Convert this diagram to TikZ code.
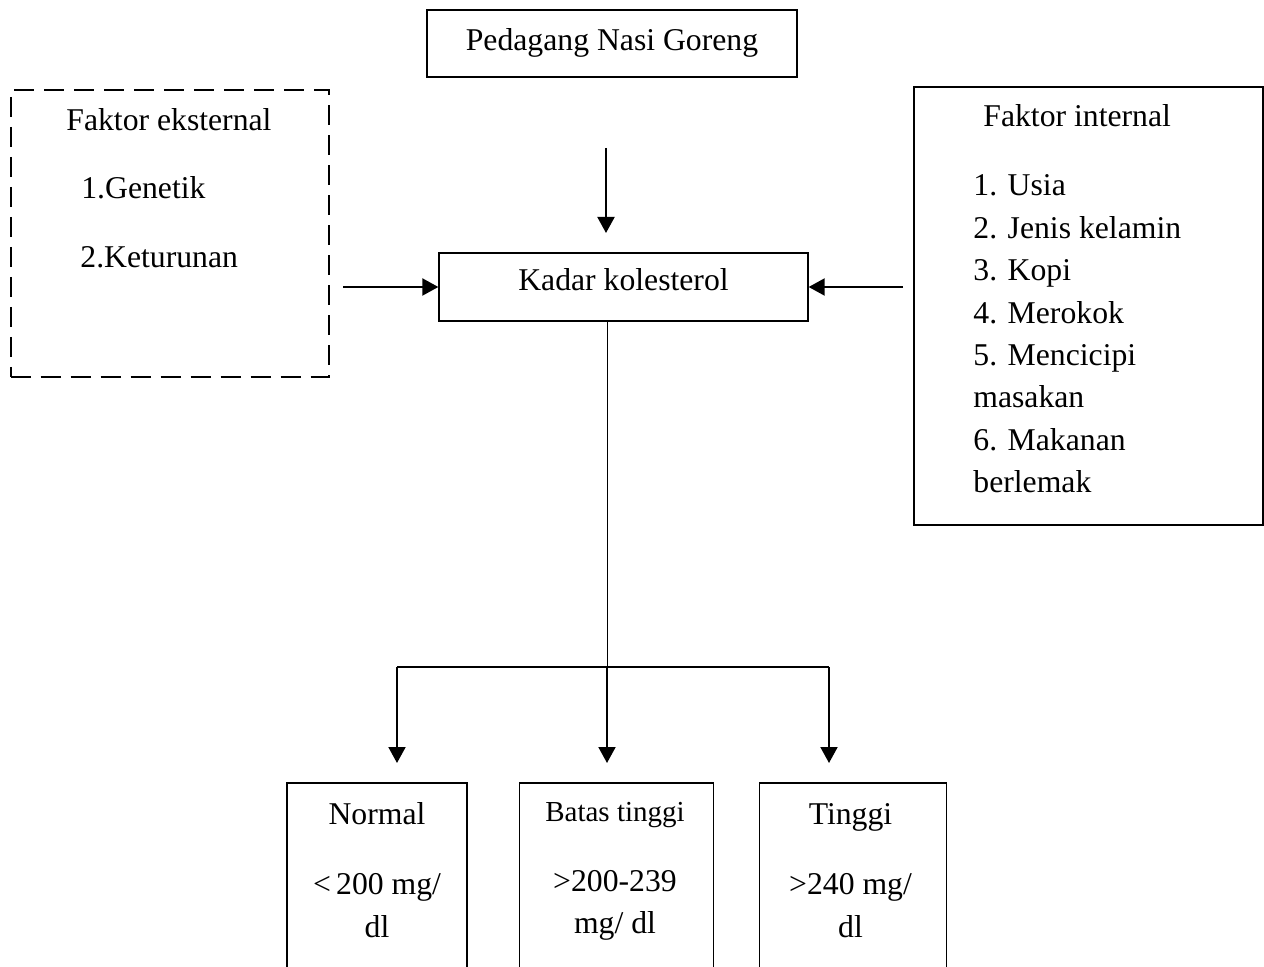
\documentclass[tikz,border=0pt]{standalone}
\usepackage{fontspec}
\setmainfont{Liberation Serif}
\usepackage{tikz}
\usetikzlibrary{positioning,arrows.meta}
\newcommand\bigtxt{\fontsize{15.85}{21.2}\selectfont}
\newcommand\smalltxt{\fontsize{14.5}{19}\selectfont}
\tikzset{
	box/.style={draw=black, line width=0.65pt, rectangle, inner sep=0pt},
	dashbox/.style={draw=black, line width=1pt, dash pattern=on 10pt off 5pt, rectangle, inner sep=0pt},
	arrow/.style={line width=1pt, -{Triangle[length=8pt,width=8.5pt]}},
	txt/.style={anchor=base west, inner sep=0pt},
	mid/.style={anchor=base, inner sep=0pt}
}

\begin{document}
\begin{tikzpicture}[x=0.5pt, y=-0.5pt, font=\bigtxt]
		\useasboundingbox (0,0) rectangle (1264,967);
		\clip (0,0) rectangle (1264,967);

		\node[box, minimum width=185pt, minimum height=33.5pt, text height=0.7em, text depth=0pt] (pedagang) at (612,43.5) {Pedagang Nasi Goreng};
		\node[box, minimum width=184.5pt, minimum height=34pt, text height=0.7em, text depth=0.32em] (kadar) at (623.5,287) {Kadar kolesterol};

		% faktor eksternal
		\node[dashbox, minimum width=159pt, minimum height=143.5pt] (ekst) at (169.5,233.5) {};
		\node[txt] (ekstT) at (66,131) {Faktor eksternal};
		\node[txt] (ekst1) at (81,199) {1.Genetik};
		\node[txt] (ekst2) at (80,268) {2.Keturunan};

		% faktor internal
		\node[box, minimum width=174.5pt, minimum height=219pt] (intern) at (1088.5,306) {};
		\node[txt] (internT) at (983,127) {Faktor internal};
		\foreach \entry [count=\i from 0] in {1. Usia, 2. Jenis kelamin, 3. Kopi, 4. Merokok, 5. Mencicipi, masakan, 6. Makanan, berlemak}
			\node[txt] (int\i) at (973,{196+42.4*\i}) {\entry};

		% kategori
		\node[box, minimum width=90pt, minimum height=110pt] (normal) at (377,893) {};
		\node[box, minimum width=97pt, minimum height=110pt, right=25.5pt of normal] (batas) {};
		\node[box, minimum width=93.5pt, minimum height=110pt, right=22.5pt of batas] (tinggi) {};

		\node[mid] (normal1) at (377,824) {Normal};
		\node[mid] (normal2) at (377,894) {<\,200 mg/};
		\node[mid] (normal3) at (377,937) {dl};
		\node[mid, font=\smalltxt] (batas1) at (615,821) {Batas tinggi};
		\node[mid] (batas2) at (615,891) {>200-239};
		\node[mid] (batas3) at (615,933) {mg/ dl};
		\node[mid] (tinggi1) at (850.5,824) {Tinggi};
		\node[mid] (tinggi2) at (850.5,894) {>240 mg/};
		\node[mid] (tinggi3) at (850.5,937) {dl};

		\coordinate (pStart) at (606,148);
		\coordinate (pEnd) at (606,233);
		\coordinate (eStart) at (343,287);
		\coordinate (iStart) at (903,287);
		\coordinate (branch) at (607,667);
		\coordinate (bL) at (397,667);
		\coordinate (bR) at (829,667);
		\coordinate (tipN) at (397,763);
		\coordinate (tipB) at (607,763);
		\coordinate (tipT) at (829,763);

		\draw[arrow] (pStart) -- (pEnd);
		\draw[arrow] (eStart) -- (kadar.west);
		\draw[arrow] (iStart) -- (kadar.east);
		\draw[line width=0.5pt] (kadar.south -| branch) -- (branch);
		\draw[line width=1pt] (bL) -- (bR);
		\draw[arrow] (bL) -- (tipN);
		\draw[arrow] (branch) -- (tipB);
		\draw[arrow] (bR) -- (tipT);
	\end{tikzpicture}
\end{document}
